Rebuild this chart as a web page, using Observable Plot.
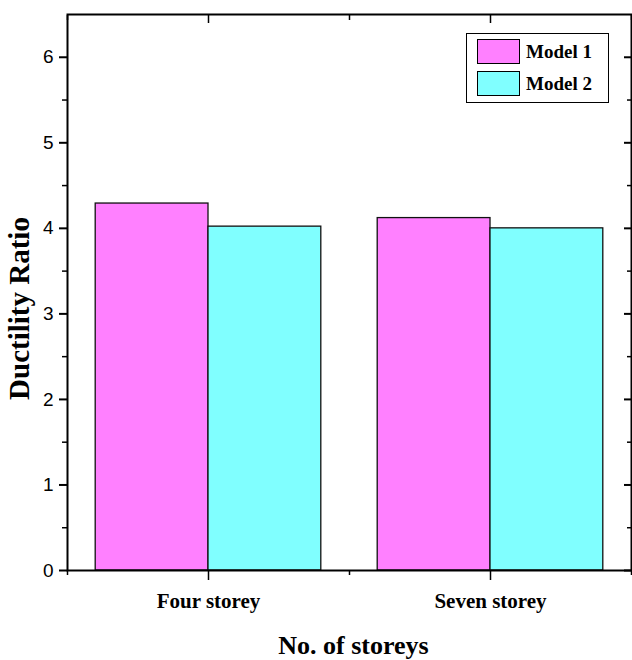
<!DOCTYPE html>
<html>
<head>
<meta charset="utf-8">
<script src="https://cdn.jsdelivr.net/npm/d3@7"></script>
<script src="https://cdn.jsdelivr.net/npm/@observablehq/plot@0.6"></script>
<style>
  html, body { margin: 0; padding: 0; background: #fff; }
  #wrap { position: relative; width: 632px; height: 660px; }
  #legend {
    position: absolute; left: 466px; top: 33px; width: 141px; height: 68px;
    border: 1px solid #000; background: #fff; box-sizing: content-box;
    font-family: "Liberation Serif", "Times New Roman", serif; font-weight: bold; font-size: 19px; color: #000;
  }
  #legend .row { position: absolute; left: 10px; display: flex; align-items: center; }
  #legend .sw { width: 43px; height: 25px; border: 1.5px solid #000; box-sizing: border-box; margin-right: 6px; }
</style>
</head>
<body>
<div id="wrap"></div>
<script>
// ---- data ----
const categories = ["Four storey", "Seven storey"];
const series = ["Model 1", "Model 2"];
const model1 = [4.29, 4.12];
const model2 = [4.02, 4.00];
const colors = ["#ff80ff", "#80ffff"];
const yTicks = [0, 1, 2, 3, 4, 5, 6];
const yMinorTicks = [0.5, 1.5, 2.5, 3.5, 4.5, 5.5];
const xTitle = "No. of storeys";
const yTitle = "Ductility Ratio";

// ---- build table ----
const values = [model1, model2];
const rows = categories.flatMap((c, i) =>
  series.map((s, j) => ({ category: c, pos: i + 1, model: s, slot: j, value: values[j][i] }))
);
const catPos = categories.map((c, i) => i + 1);
const catMinor = [0.5].concat(catPos.map(p => p + 0.5));
const barW = 0.4;

const serif = "'Liberation Serif', 'Times New Roman', serif";
const sans = "'Liberation Sans', Arial, sans-serif";

const chart = Plot.plot({
  width: 632,
  height: 660,
  marginLeft: 67,
  marginRight: 1,
  marginTop: 14,
  marginBottom: 90,
  style: { background: "#fff", color: "#000", overflow: "visible" },
  x: { type: "linear", domain: [0.5, categories.length + 0.5] },
  y: { domain: [0, 6.5] },
  color: { domain: series, range: colors },
  marks: [
    Plot.rect(rows, {
      x1: d => d.pos - barW + d.slot * barW,
      x2: d => d.pos + d.slot * barW,
      y1: 0,
      y2: "value",
      fill: "model",
      stroke: "#111",
      strokeWidth: 1.3
    }),
    Plot.frame({ stroke: "#000", strokeWidth: 2 }),
    // left axis
    Plot.axisY(yTicks, { anchor: "left", tickSize: 8, tickPadding: 6, strokeWidth: 2,
      fontSize: 19, fontFamily: sans, tickFormat: d => String(d), label: null }),
    Plot.axisY(yMinorTicks, { anchor: "left", tickSize: 5, strokeWidth: 1.5, fill: "none", label: null }),
    // right axis (inward ticks)
    Plot.axisY(yTicks, { anchor: "right", tickSize: -8, strokeWidth: 2, fill: "none", label: null }),
    Plot.axisY(yMinorTicks, { anchor: "right", tickSize: -5, strokeWidth: 1.5, fill: "none", label: null }),
    // bottom axis
    Plot.axisX(catPos, { anchor: "bottom", tickSize: 10, tickPadding: 13, strokeWidth: 1.5,
      fontSize: 21, fontWeight: "bold", fontFamily: serif, tickFormat: d => categories[d - 1], label: null }),
    Plot.axisX(catMinor, { anchor: "bottom", tickSize: 5, strokeWidth: 1.5, fill: "none", label: null }),
    // top axis (inward ticks)
    Plot.axisX(catPos, { anchor: "top", tickSize: -8, strokeWidth: 1.5, fill: "none", label: null }),
    Plot.axisX(catMinor, { anchor: "top", tickSize: -5, strokeWidth: 1.5, fill: "none", label: null }),
    // axis titles
    Plot.text([xTitle], { text: d => d, frameAnchor: "bottom", textAnchor: "middle", lineAnchor: "middle",
      dx: 4, dy: 75, fontSize: 26, fontWeight: "bold", fontFamily: serif, fill: "#000" }),
    Plot.text([yTitle], { text: d => d, frameAnchor: "left", textAnchor: "middle", lineAnchor: "middle",
      rotate: -90, dx: -48, dy: 16, fontSize: 29, fontWeight: "bold", fontFamily: serif, fill: "#000" })
  ]
});

const wrap = document.getElementById("wrap");
wrap.appendChild(chart);

// legend overlay
const legend = document.createElement("div");
legend.id = "legend";
series.forEach((s, j) => {
  const row = document.createElement("div");
  row.className = "row";
  row.style.top = (5 + j * 32) + "px";
  const sw = document.createElement("div");
  sw.className = "sw";
  sw.style.background = colors[j];
  const label = document.createElement("span");
  label.textContent = s;
  row.appendChild(sw);
  row.appendChild(label);
  legend.appendChild(row);
});
wrap.appendChild(legend);
</script>
</body>
</html>
